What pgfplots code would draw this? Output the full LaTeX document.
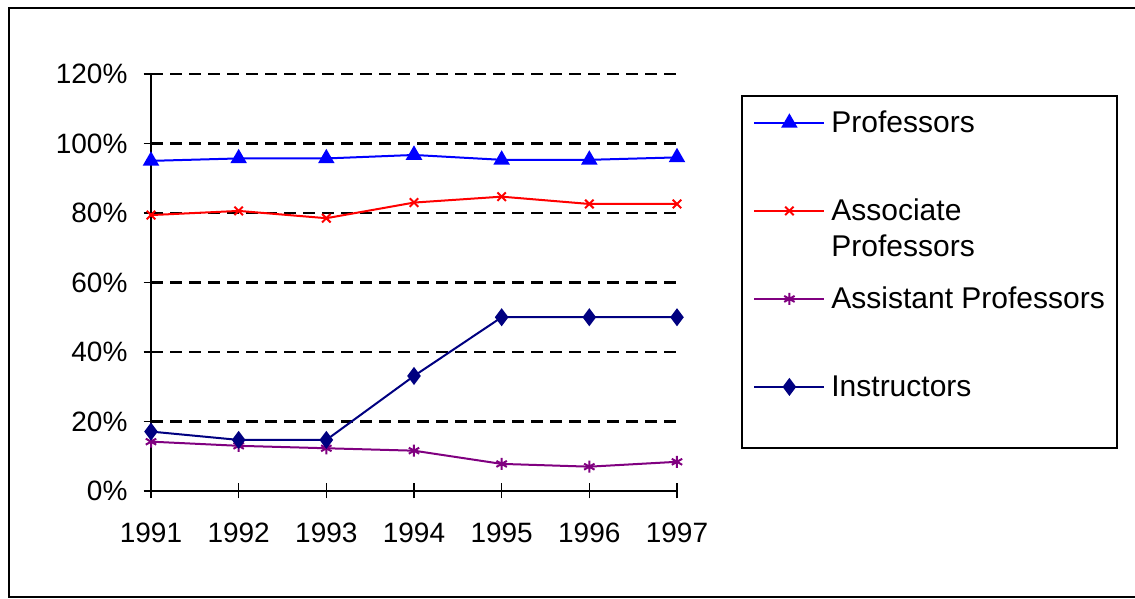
\documentclass[border=0pt]{standalone}
\usepackage{fontspec}
\setmainfont{Liberation Sans}
\usepackage{pgfplots}
\pgfplotsset{compat=1.18}
\definecolor{cProf}{RGB}{0,0,255}
\definecolor{cAssoc}{RGB}{255,0,0}
\definecolor{cAssist}{RGB}{128,0,128}
\definecolor{cInstr}{RGB}{0,0,128}
\begin{document}
\begin{tikzpicture}
\useasboundingbox (0,0) rectangle (567.5pt,299.5pt);
\draw[line width=1pt] (4.5pt,1pt) rectangle (580pt,295.5pt);
\draw[line width=1pt] (371pt,75.5pt) rectangle (558.5pt,251.5pt);
\begin{axis}[
  at={(75.5pt,54pt)}, anchor=south west,
  scale only axis, width=263pt, height=208.5pt,
  xmin=1991, xmax=1997, ymin=0, ymax=120,
  axis x line=bottom, axis y line=left,
  axis line style={line width=1pt, -},
  xtick={1991,1992,1993,1994,1995,1996,1997},
  xticklabels={1991,1992,1993,1994,1995,1996,1997},
  ytick={0,20,40,60,80,100,120},
  yticklabels={0\%,20\%,40\%,60\%,80\%,100\%,120\%},
  tick align=center, major tick length=7.5pt,
  tick style={line width=0.8pt, black},
  ymajorgrids, grid style={black, line width=1.2pt, dash pattern=on 6pt off 3.5pt},
  ticklabel style={font=\fontsize{14}{16}\selectfont},
  yticklabel style={xshift=-4.5pt},
  xticklabel style={yshift=-8.5pt},
  clip=false,
  legend style={at={(1.1445,0.9134)}, anchor=north west, draw=none, fill=none,
    inner sep=0pt, row sep=30pt, column sep=3pt,
    nodes={inner sep=0pt, text height=11pt, text depth=3pt, font=\fontsize{15}{18}\selectfont}},
  legend cell align=left,
  legend image code/.code={\draw[mark repeat=2,mark phase=2] plot coordinates {(0pt,0.8pt)(17.5pt,0.8pt)(35pt,0.8pt)};},
]
\addplot[cProf, line width=1pt, mark=triangle*, mark size=3.8pt, mark options={solid}] coordinates {
(1991,95.0)(1992,95.7)(1993,95.7)(1994,96.7)(1995,95.3)(1996,95.3)(1997,96.0)};
\addlegendentry{Professors}
\addplot[cAssoc, line width=1pt, mark=x, mark size=3pt] coordinates {
(1991,79.4)(1992,80.6)(1993,78.5)(1994,83.0)(1995,84.7)(1996,82.6)(1997,82.6)};
\addlegendentry{\raisebox{0pt}[\height][0pt]{\begin{tabular}[t]{@{}l@{}}Associate\\Professors\end{tabular}}}
\addplot[cAssist, line width=1pt, mark=asterisk, mark size=3pt] coordinates {
(1991,14.2)(1992,13.0)(1993,12.3)(1994,11.6)(1995,7.8)(1996,7.0)(1997,8.4)};
\addlegendentry{Assistant Professors}
\addplot[cInstr, line width=1pt, mark=diamond*, mark size=3.7pt] coordinates {
(1991,17.1)(1992,14.7)(1993,14.7)(1994,33.1)(1995,50.0)(1996,50.0)(1997,50.0)};
\addlegendentry{Instructors}
\end{axis}
\end{tikzpicture}
\end{document}
